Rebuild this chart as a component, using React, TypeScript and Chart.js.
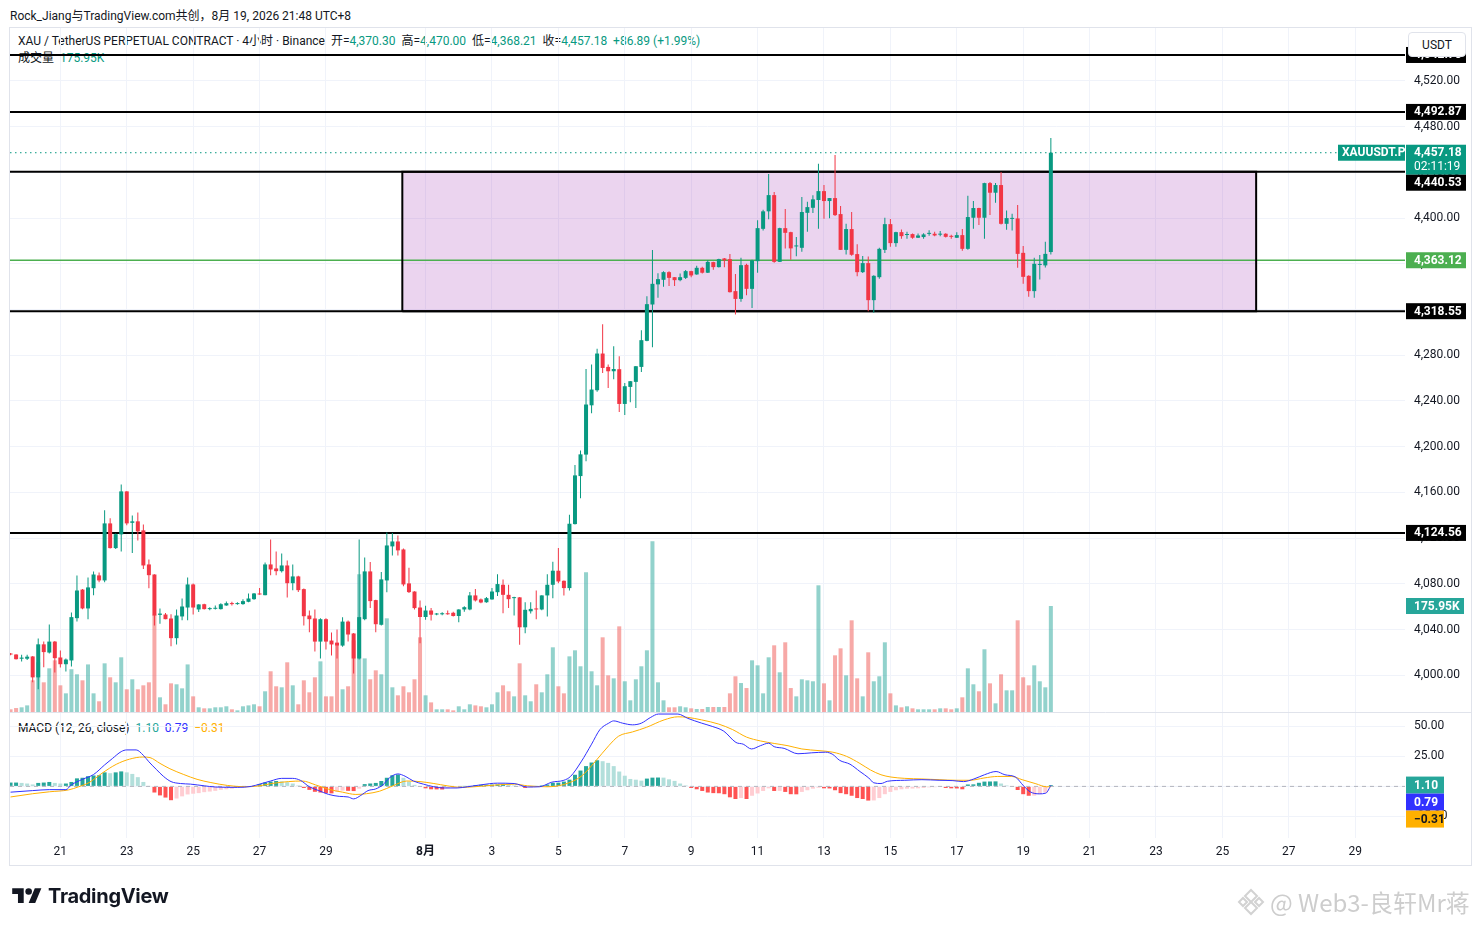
import React, { useEffect, useRef } from 'react';
import { Chart, registerables } from 'chart.js';

Chart.register(...registerables);

const FONT = "Roboto, 'Noto Sans CJK SC', 'Noto Sans', sans-serif";

// 4h slots counted from 21 Jul 00:00; first visible candle is slot -9
const FIRST_SLOT = -9;

const OPEN = [
  4019.0, 4018.2, 4014.5, 4014.5, 4016.5, 3998.2, 4027.1, 4019.9, 4029.5,
  4015.6, 4009.7, 4013.0, 4050.0, 4075.0, 4058.5, 4076.2, 4087.4, 4083.0, 4132.9,
  4111.3, 4123.3, 4160.9, 4133.4, 4134.7, 4126.8, 4097.0, 4088.2, 4052.9, 4053.2,
  4049.7, 4032.5, 4051.5, 4059.3, 4079.5, 4057.6, 4062.2, 4057.9, 4058.2, 4057.9,
  4061.1, 4063.2, 4062.3, 4062.3, 4064.3, 4066.6, 4071.6, 4070.1, 4097.0, 4093.5,
  4091.1, 4096.1, 4080.6, 4086.5, 4075.4, 4052.3, 4049.7, 4029.5, 4049.1, 4030.4,
  4028.6, 4026.0, 4047.0, 4036.6, 4014.7, 4049.1, 4090.9, 4065.8, 4044.2, 4083.0,
  4112.8, 4117.1, 4110.1, 4080.4, 4073.3, 4059.3, 4051.0, 4056.7, 4053.2, 4053.4,
  4054.3, 4054.7, 4051.9, 4057.6, 4057.6, 4069.9, 4066.4, 4063.9, 4066.4, 4072.7,
  4079.2, 4070.4, 4067.5, 4068.2, 4042.0, 4056.0, 4058.5, 4057.6, 4069.9, 4079.2,
  4091.5, 4082.7, 4076.3, 4132.3, 4174.3, 4193.1, 4236.2, 4249.4, 4281.5, 4269.8,
  4266.0, 4267.8, 4237.4, 4252.3, 4256.7, 4269.8, 4292.6, 4324.4, 4342.0, 4346.0,
  4352.7, 4348.3, 4345.7, 4347.7, 4353.6, 4350.7, 4356.5, 4352.2, 4361.5, 4357.1,
  4364.7, 4364.1, 4336.1, 4329.3, 4359.1, 4338.1, 4362.3, 4390.6, 4405.9, 4420.1,
  4361.7, 4391.2, 4387.7, 4375.2, 4374.0, 4404.6, 4409.0, 4415.8, 4423.6, 4414.9,
  4417.5, 4403.5, 4372.2, 4390.4, 4368.5, 4352.7, 4360.6, 4328.2, 4348.3, 4372.2,
  4394.7, 4378.1, 4387.7, 4385.2, 4386.0, 4382.8, 4383.4, 4386.2, 4386.3, 4385.5,
  4386.3, 4384.4, 4382.8, 4385.1, 4373.1, 4400.3, 4408.8, 4400.3, 4430.6, 4422.2,
  4428.9, 4395.0, 4399.3, 4399.7, 4369.6, 4349.5, 4336.1, 4359.0, 4358.6, 4370.3,
];

const HIGH = [
  4019.5, 4018.5, 4018.0, 4018.0, 4016.8, 4032.2, 4029.5, 4044.4, 4030.0,
  4021.7, 4014.7, 4055.0, 4087.4, 4075.4, 4085.6, 4090.9, 4090.0, 4144.3, 4137.3,
  4124.0, 4167.0, 4161.0, 4139.9, 4142.5, 4132.0, 4101.4, 4088.5, 4058.5, 4054.5,
  4053.5, 4057.6, 4067.2, 4085.6, 4080.4, 4062.2, 4062.5, 4059.5, 4061.0, 4063.0,
  4064.5, 4064.4, 4064.0, 4066.5, 4071.6, 4072.0, 4076.3, 4098.8, 4118.9, 4108.4,
  4106.6, 4100.5, 4097.0, 4087.0, 4076.0, 4056.7, 4057.6, 4050.0, 4050.0, 4037.4,
  4040.0, 4050.9, 4048.0, 4037.0, 4118.9, 4103.1, 4099.1, 4066.0, 4090.3, 4125.0,
  4124.4, 4122.4, 4111.0, 4094.0, 4073.5, 4065.5, 4060.9, 4058.8, 4054.5, 4055.2,
  4056.6, 4055.5, 4057.8, 4060.5, 4072.8, 4075.4, 4067.2, 4068.5, 4076.3, 4088.5,
  4083.9, 4079.2, 4068.8, 4068.5, 4064.0, 4064.0, 4074.2, 4070.0, 4088.5, 4099.4,
  4111.3, 4083.0, 4140.5, 4184.0, 4196.6, 4268.0, 4271.9, 4285.6, 4307.2, 4271.9,
  4287.9, 4279.2, 4255.8, 4257.5, 4270.6, 4301.9, 4331.7, 4372.0, 4351.8, 4353.6,
  4353.6, 4348.5, 4351.5, 4354.5, 4354.0, 4358.3, 4357.5, 4363.4, 4361.7, 4364.5,
  4365.0, 4368.5, 4351.0, 4365.3, 4360.0, 4363.5, 4398.2, 4407.3, 4438.5, 4422.8,
  4391.5, 4407.9, 4388.0, 4383.4, 4418.4, 4414.3, 4419.9, 4447.6, 4428.9, 4417.5,
  4455.2, 4410.5, 4395.0, 4405.3, 4377.2, 4366.8, 4366.4, 4350.0, 4374.0, 4400.3,
  4399.1, 4388.0, 4390.0, 4388.0, 4386.5, 4386.5, 4386.8, 4389.4, 4388.0, 4388.8,
  4386.7, 4385.5, 4387.7, 4390.4, 4419.5, 4414.9, 4409.0, 4431.0, 4431.5, 4430.6,
  4440.3, 4406.7, 4403.8, 4411.4, 4375.5, 4350.0, 4365.2, 4367.6, 4379.2, 4470.0,
];

const LOW = [
  4017.5, 4013.8, 4012.0, 4013.5, 3994.0, 3987.8, 4007.0, 4019.0, 4002.4,
  4006.8, 4003.3, 4007.7, 4047.0, 4057.9, 4049.1, 4070.1, 4081.5, 4081.5, 4111.0,
  4110.5, 4108.4, 4131.2, 4106.9, 4118.0, 4093.0, 4076.2, 4043.6, 4045.2, 4049.0,
  4025.5, 4026.9, 4048.2, 4048.2, 4053.2, 4055.3, 4057.5, 4057.0, 4057.6, 4057.5,
  4060.8, 4061.0, 4061.8, 4061.8, 4064.0, 4066.0, 4070.5, 4070.0, 4087.6, 4087.6,
  4090.0, 4068.0, 4074.5, 4072.8, 4043.6, 4037.7, 4020.8, 4014.7, 4022.5, 4017.4,
  4014.7, 4025.0, 4029.5, 4001.5, 4013.8, 4048.2, 4058.8, 4037.7, 4043.6, 4072.7,
  4104.9, 4104.9, 4078.0, 4072.0, 4057.6, 4028.0, 4048.6, 4047.9, 4052.6, 4052.6,
  4053.0, 4051.5, 4046.5, 4055.7, 4057.0, 4064.6, 4063.0, 4063.5, 4066.0, 4069.3,
  4054.4, 4058.8, 4052.3, 4026.7, 4036.9, 4054.0, 4049.1, 4057.0, 4051.5, 4067.5,
  4080.6, 4069.9, 4074.2, 4132.0, 4155.0, 4187.2, 4229.2, 4248.0, 4264.5, 4251.4,
  4259.0, 4230.4, 4227.8, 4238.9, 4233.9, 4265.4, 4292.3, 4287.0, 4330.2, 4339.9,
  4340.5, 4340.5, 4344.8, 4346.8, 4348.3, 4350.5, 4351.5, 4352.0, 4354.8, 4356.7,
  4357.0, 4335.0, 4315.7, 4326.7, 4332.6, 4321.4, 4352.1, 4389.2, 4398.9, 4361.0,
  4361.5, 4373.5, 4363.5, 4366.7, 4370.5, 4388.0, 4404.4, 4390.6, 4399.4, 4399.9,
  4401.8, 4372.0, 4368.2, 4367.0, 4349.2, 4352.0, 4318.6, 4317.1, 4346.9, 4369.4,
  4374.9, 4374.9, 4382.0, 4382.0, 4382.0, 4382.5, 4382.0, 4384.5, 4384.2, 4384.2,
  4383.0, 4382.0, 4382.5, 4371.4, 4372.2, 4390.6, 4393.9, 4381.9, 4402.6, 4413.4,
  4394.5, 4389.8, 4389.2, 4356.5, 4342.5, 4331.1, 4330.2, 4346.3, 4356.8, 4368.21,
];

const CLOSE = [
  4018.2, 4014.1, 4015.5, 4016.3, 3998.2, 4027.1, 4020.3, 4029.5, 4015.0,
  4009.7, 4013.8, 4050.9, 4074.2, 4058.5, 4076.9, 4088.2, 4083.0, 4132.9, 4111.3,
  4123.5, 4160.9, 4132.9, 4134.7, 4125.9, 4096.1, 4087.6, 4052.3, 4054.0, 4049.1,
  4032.5, 4052.3, 4060.2, 4079.5, 4059.3, 4062.0, 4057.9, 4058.8, 4059.0, 4062.2,
  4063.1, 4062.3, 4063.2, 4064.9, 4067.2, 4071.6, 4070.7, 4097.0, 4092.6, 4091.1,
  4096.1, 4080.6, 4086.5, 4074.5, 4051.7, 4049.1, 4029.5, 4049.1, 4029.5, 4027.0,
  4026.0, 4047.0, 4035.7, 4014.7, 4050.9, 4090.9, 4064.9, 4044.7, 4083.9, 4113.6,
  4117.1, 4109.3, 4079.5, 4072.8, 4058.8, 4051.0, 4056.7, 4053.0, 4053.8, 4054.3,
  4053.4, 4051.9, 4057.6, 4059.6, 4069.9, 4065.5, 4063.7, 4067.5, 4073.3, 4079.8,
  4070.4, 4066.6, 4068.2, 4042.0, 4057.3, 4058.1, 4057.6, 4069.9, 4079.2, 4091.5,
  4082.1, 4076.3, 4132.6, 4174.9, 4193.3, 4236.9, 4250.0, 4281.5, 4268.9, 4266.0,
  4268.0, 4237.4, 4252.9, 4257.3, 4270.4, 4293.2, 4324.7, 4342.5, 4346.6, 4352.7,
  4347.7, 4345.7, 4348.3, 4353.6, 4349.8, 4356.5, 4352.2, 4361.7, 4357.1, 4364.1,
  4363.0, 4335.2, 4329.3, 4358.8, 4338.1, 4363.0, 4391.2, 4405.9, 4420.1, 4361.7,
  4391.2, 4387.1, 4373.5, 4376.0, 4405.3, 4409.6, 4416.4, 4423.6, 4414.9, 4417.5,
  4402.6, 4372.2, 4390.4, 4367.9, 4352.7, 4360.6, 4328.2, 4349.5, 4373.1, 4394.7,
  4378.1, 4387.7, 4384.2, 4386.0, 4382.8, 4384.8, 4385.7, 4386.9, 4384.8, 4386.3,
  4383.6, 4383.6, 4385.1, 4373.1, 4400.9, 4408.8, 4400.3, 4430.6, 4422.2, 4428.9,
  4395.0, 4400.0, 4400.1, 4368.7, 4348.6, 4336.1, 4360.0, 4359.6, 4368.7, 4457.18,
];

// volume in thousands
const VOLUME_K = [
  4.5, 6.6, 7.8, 11, 52.6, 82.5, 49.3, 72.5, 85.8,
  44.3, 31, 71, 62.6, 52.6, 79, 31, 17.8, 80.8, 57.6,
  49.3, 90.8, 37.7, 54.3, 37.7, 44.3, 49.3, 161.6, 24.4, 12.8,
  47.6, 46, 39.3, 79, 26, 7.8, 6.1, 6.1, 7.8, 7.8,
  9.5, 4.5, 2.8, 9.5, 11, 12.8, 9.5, 34.4, 67.6, 42.7,
  41, 82.5, 44.3, 12.8, 52.6, 32.7, 57.6, 84.1, 26, 26,
  110.7, 37.7, 42.7, 119, 228.5, 89, 54.3, 69.2, 62.6, 155.5,
  41, 27.7, 42.7, 32.7, 54.3, 124, 27.7, 16, 4.5, 4.5,
  4.5, 2.8, 9.5, 4.5, 12.8, 11, 9.5, 7.8, 12.8, 32.7,
  44.3, 34.4, 26, 80.8, 27.7, 17.8, 46, 32.7, 62.6, 107.4,
  42.7, 31, 92.4, 102.4, 75.9, 231.9, 67.6, 44.3, 124, 60.9,
  55.9, 142.2, 51, 19.4, 54.3, 75.9, 102.4, 283.3, 49.3, 19.4,
  7.8, 7.8, 9.5, 7.8, 6.1, 5, 5, 8.3, 8.3, 8.3,
  8.3, 31, 59.3, 48.1, 39.8, 85.8, 77.5, 31, 90.8, 110.7,
  65.9, 115.7, 39.8, 26, 54.3, 52.6, 51, 210.3, 47.6, 19.4,
  94.1, 105.7, 60.9, 152.2, 55.9, 26, 99.1, 51, 59.3, 115.7,
  31, 11, 7.8, 9.5, 6.1, 4.5, 4.5, 4.5, 4.5, 6.1,
  6.1, 4.5, 6.1, 24.4, 72.5, 46, 34.4, 104.1, 47.6, 14.4,
  62.6, 36, 36, 152.2, 57.6, 44.3, 77.5, 51, 41, 175.95,
];

// MACD histogram, one value per candle
const HIST = [
  3.2, 3.2, 2.9, 2.4, 1.6, 2.9, 3.2, 3.7, 2.9,
  2.4, 2.4, 3.7, 6.7, 7.2, 8.5, 9.1, 9.3, 11.7, 11.0,
  11.7, 12.5, 11.7, 10.4, 7.7, 3.7, 0.3, -5.1, -7.5, -9.3,
  -11.5, -10.1, -8.3, -6.7, -6.1, -5.6, -4.8, -4.3, -3.7, -2.9,
  -2.4, -1.9, -1.3, -0.8, -0.3, 0.5, 1.9, 3.2, 4.0, 4.5,
  4.3, 3.5, 2.4, 0.8, -1.3, -2.9, -4.5, -5.1, -5.6, -5.8,
  -4.5, -3.5, -3.7, -3.9, -1.9, 1.9, 2.4, 2.9, 4.5, 7.2,
  9.3, 9.9, 7.2, 4.0, 1.3, -0.3, -1.6, -2.4, -2.5, -2.6,
  -1.6, -1.1, -0.5, 0.1, 0.5, 1.1, 1.3, 1.4, 1.5, 1.6,
  1.7, 1.6, 0.8, -0.5, -1.3, -0.8, 0.3, 0.8, 1.6, 3.0,
  3.1, 4.0, 5.6, 9.7, 13.2, 16.9, 19.9, 21.8, 21.0, 19.6,
  16.9, 12.4, 8.9, 6.2, 5.6, 4.8, 6.5, 7.3, 7.4, 7.3,
  5.9, 4.6, 2.4, 0.8, -1.3, -2.4, -3.8, -5.1, -5.6, -5.7,
  -6.5, -9.1, -10.5, -9.7, -10.5, -7.8, -5.9, -3.8, -1.6, -3.8,
  -3.7, -4.6, -6.5, -6.6, -4.6, -3.2, -1.9, -1.1, -1.6, -1.7,
  -3.2, -5.6, -6.5, -7.8, -9.7, -10.5, -11.8, -11.7, -9.7, -6.5,
  -4.6, -3.2, -2.4, -1.9, -1.8, -1.6, -1.3, -0.8, -0.7, -0.5,
  -1.3, -1.6, -1.7, -2.4, 1.6, 1.7, 3.0, 4.0, 4.1, 4.2,
  2.4, 0.8, -0.5, -3.0, -6.5, -7.8, -7.7, -6.5, -5.1, 1.1,
];

// MACD line readings (slot, value)
const MACD_X = [-9, -5, -2, 1, 2, 4, 6, 8, 9.4, 11, 12, 13.7, 15, 16, 17.4, 18.6, 20, 21.7, 23.5, 26, 28, 32, 34.5, 36, 38, 40, 42, 43.4, 45, 46.7, 48.5, 50.4, 52, 53, 54.3, 55.6, 57, 58.3, 59.5, 61, 62.3, 63.8, 65.6, 67.5, 69.3, 71.7, 73.6, 76, 79, 82, 84.4, 86.6, 88.8, 91, 92.2, 94.1, 96, 97.5, 99.1, 100, 101.6, 103.4, 105, 106.6, 108.1, 111.6, 113.4, 115.9, 117.8, 119.9, 122.1, 123.4, 124.9, 126.5, 128, 129, 130.8, 133.3, 135.8, 138.3, 139.6, 140.8, 142.7, 144.5, 146.1, 147, 148.3, 149.5, 152.6, 155.7, 158.8, 161.3, 163.2, 165.1, 167, 169.1, 170.7, 172.6, 174.1, 175.3, 176.9, 178.1, 179];
const MACD_Y = [-4.8, -3.5, -2.7, -2.7, 1.3, 5.9, 9.9, 17.9, 23.2, 29, 30.4, 30.4, 25.9, 20.5, 13.9, 8.5, 4, 2.4, 1.9, 0.5, -0.5, -0.8, 0, 1.9, 4.5, 6.7, 6.7, 5, -0.3, -3.5, -6.7, -8.3, -8.8, -10.4, -7.5, -3.5, -2.1, 1.3, 7.2, 10.4, 8.5, 4.5, 1.9, -0.3, -1.3, -1.3, -0.3, 1.3, 2.7, 2.4, -0.5, -0.3, 3.5, 5.1, 8.3, 20.4, 35.2, 47.3, 52.7, 54.6, 52.7, 51.3, 52.7, 57.3, 60.3, 60.3, 56.7, 52.7, 50, 46, 36.6, 35.2, 31.2, 33.9, 36, 33.1, 31.7, 27.2, 28, 28.5, 26.6, 21.8, 18.5, 12.4, 7, 3, 2.4, 4.3, 5.1, 5.6, 5.1, 4.8, 4, 6.2, 9.7, 12.4, 9.7, 7.8, 0.3, -4.6, -6.2, -5.6, 0.79];

// Signal line readings (slot, value)
const SIGNAL_X = [-9, -5, -2, 1.5, 3.3, 5.2, 7.6, 10.1, 12.5, 14.9, 16.2, 18, 19.8, 22.3, 24.7, 27.2, 30.2, 33.3, 35.7, 38.2, 41.2, 43.7, 46.1, 48.5, 51, 53.4, 55.3, 57.7, 60.1, 62.6, 65, 67.5, 69.9, 72.4, 74.8, 78.5, 82.1, 84.4, 87.9, 91, 94.1, 96.6, 99.1, 100.9, 103.4, 105.9, 109.1, 111.6, 113.4, 115.9, 119, 121.5, 124, 126.5, 129, 131.5, 134, 137.1, 139.6, 142.1, 144.5, 146.4, 148.3, 150.1, 152.6, 155.7, 158.8, 161.9, 164.4, 166.9, 169.4, 171.9, 173.8, 176.3, 178.2, 179];
const SIGNAL_Y = [-8.8, -6.1, -4.5, -2.9, -0.3, 3.2, 11.2, 18.4, 22.7, 24.5, 24, 19.2, 14.7, 9.9, 5.9, 3.2, 0.8, -0.3, 0.3, 2.4, 4, 4.5, 1.3, -2.4, -4.8, -6.7, -6.1, -4, 0.5, 4.5, 4, 2.4, 0.5, -0.8, -0.3, 1.1, 1.9, 0.5, -0.3, 1.6, 8.3, 20.4, 33.9, 41.9, 45.4, 49.2, 55.4, 58, 57.5, 55.4, 51.9, 47.3, 41.1, 37.9, 35.8, 33.9, 31.2, 29.8, 28.5, 25, 19.1, 13.7, 9.7, 7.8, 6.7, 6.2, 5.6, 5.1, 5.1, 7, 8.3, 8.3, 5.6, 2.2, -0.3, -0.31];

const X_TICK_SLOTS = [0, 12, 24, 36, 48, 66, 78, 90, 102, 114, 126, 138, 150, 162, 174, 186, 198, 210, 222, 234];
const X_TICK_LABELS = ['21', '23', '25', '27', '29', '8月', '3', '5', '7', '9', '11', '13', '15', '17', '19', '21', '23', '25', '27', '29'];
const PRICE_TICKS = [4000, 4040, 4080, 4120, 4160, 4200, 4240, 4280, 4320, 4360, 4400, 4440, 4480, 4520];
const MACD_TICKS = [-25, 0, 25, 50];

const BLACK_LEVELS = [4542.7, 4492.87, 4440.53, 4318.55, 4124.56];
const GREEN_LEVEL = 4363.12;
const LAST_PRICE = 4457.18;
const BOX_SLOTS = [61.8, 216.1];
const BOX_PRICES = [4318.55, 4440.53];

const X_MIN = -9.1;
const X_MAX = 243.0;
const PRICE_MIN = 3967.9;
const PRICE_MAX = 4566.3;
const VOL_MIN = -209.1;
const VOL_MAX = 1135.3;
const MACD_MIN = -43.0;
const MACD_MAX = 62.0;

const UP = '#089981';
const DOWN = '#f23645';

const fmt2 = (v: number) =>
  v.toLocaleString('en-US', { minimumFractionDigits: 2, maximumFractionDigits: 2 });

const overlayPlugin = {
  id: 'overlay',
  afterDraw(chart: any) {
    const { ctx, chartArea: a, scales } = chart;
    const py = scales.y;
    const pm = scales.ym;
    const pv = scales.yv;
    ctx.save();
    const sep = Math.round(py.bottom) + 0.5;
    ctx.strokeStyle = '#e0e3eb';
    ctx.lineWidth = 1;
    ctx.beginPath();
    ctx.moveTo(a.left, sep);
    ctx.lineTo(py.right, sep);
    ctx.stroke();

    const bx = a.right + 1;
    const stack = (items: any[], scale: any, w: number, h0: number) => {
      let last = -Infinity;
      items
        .slice()
        .sort((p, q) => q.v - p.v)
        .forEach((it) => {
          const h = h0 + (it.lines.length - 1) * 14;
          const top = Math.max(scale.getPixelForValue(it.v) - h0 / 2, last);
          ctx.fillStyle = it.bg;
          ctx.fillRect(bx, top, w, h);
          ctx.fillStyle = it.fg;
          ctx.textBaseline = 'middle';
          ctx.textAlign = 'left';
          it.lines.forEach((t: string, j: number) => {
            ctx.font = (j === 0 ? 'bold ' : '') + '12px ' + FONT;
            ctx.fillText(t, bx + 8, top + h0 / 2 + 0.5 + j * 14);
          });
          last = top + h;
        });
    };

    const priceBadges = [
      ...BLACK_LEVELS.map((v) => ({ v, bg: '#000000', fg: '#ffffff', lines: [fmt2(v)] })),
      { v: GREEN_LEVEL, bg: '#4caf50', fg: '#ffffff', lines: [fmt2(GREEN_LEVEL)] },
      { v: LAST_PRICE, bg: UP, fg: '#ffffff', lines: [fmt2(LAST_PRICE), '02:11:19'] },
    ];
    stack(priceBadges, py, 60, 16);

    const lastVol = VOLUME_K[VOLUME_K.length - 1];
    stack([{ v: lastVol, bg: '#26a69a', fg: '#ffffff', lines: [lastVol.toFixed(2) + 'K'] }], pv, 58, 16);

    const lastHist = HIST[HIST.length - 1];
    const lastMacd = MACD_Y[MACD_Y.length - 1];
    const lastSig = SIGNAL_Y[SIGNAL_Y.length - 1];
    const mfmt = (v: number) => (v < 0 ? '\u2212' : '') + Math.abs(v).toFixed(2);
    stack(
      [
        { v: lastHist, bg: '#26a69a', fg: '#ffffff', lines: [mfmt(lastHist)] },
        { v: lastMacd, bg: '#3131ff', fg: '#ffffff', lines: [mfmt(lastMacd)] },
        { v: lastSig, bg: '#ffb000', fg: '#131722', lines: [mfmt(lastSig)] },
      ],
      pm,
      38,
      17
    );

    // symbol tag at the last price
    const ty = py.getPixelForValue(LAST_PRICE) - 8;
    ctx.fillStyle = UP;
    ctx.fillRect(a.right - 67, ty, 67, 16);
    ctx.fillStyle = '#ffffff';
    ctx.font = 'bold 12px ' + FONT;
    ctx.textBaseline = 'middle';
    ctx.textAlign = 'left';
    ctx.fillText('XAUUSDT.P', a.right - 63, ty + 8.5);
    ctx.restore();
  },
};

function hline(y: number, color: string, width: number, order: number, dash: number[] = []) {
  return {
    type: 'line',
    yAxisID: 'y',
    data: [
      { x: X_MIN, y },
      { x: X_MAX, y },
    ],
    borderColor: color,
    borderWidth: width,
    borderDash: dash,
    pointRadius: 0,
    fill: false,
    order,
  };
}

export default function App() {
  const ref = useRef<HTMLCanvasElement>(null);

  useEffect(() => {
    const slots = OPEN.map((_, k) => FIRST_SLOT + k);
    const up = OPEN.map((o, k) => CLOSE[k] >= o);
    const candleColors = up.map((u) => (u ? UP : DOWN));
    const volColors = up.map((u) => (u ? 'rgba(38,166,154,0.5)' : 'rgba(239,83,80,0.5)'));
    const histColors = HIST.map((h, k) => {
      const prev = k > 0 ? HIST[k - 1] : h;
      if (h >= 0) return h >= prev ? '#26a69a' : '#b2dfdb';
      return h < prev ? '#ff5252' : '#ffcdd2';
    });

    const datasets: any[] = [
      {
        type: 'bar',
        yAxisID: 'yv',
        data: slots.map((s, k) => ({ x: s, y: VOLUME_K[k] })),
        backgroundColor: volColors,
        barThickness: 4,
        grouped: false,
        inflateAmount: 0,
        order: 20,
      },
      {
        type: 'line',
        yAxisID: 'y',
        data: [
          { x: BOX_SLOTS[0], y: BOX_PRICES[1] },
          { x: BOX_SLOTS[1], y: BOX_PRICES[1] },
        ],
        borderWidth: 0,
        pointRadius: 0,
        backgroundColor: 'rgba(156,39,176,0.2)',
        fill: { value: BOX_PRICES[0] },
        order: 15,
      },
      {
        type: 'line',
        yAxisID: 'y',
        data: [
          { x: BOX_SLOTS[0], y: BOX_PRICES[0] },
          { x: BOX_SLOTS[1], y: BOX_PRICES[0] },
          { x: BOX_SLOTS[1], y: BOX_PRICES[1] },
          { x: BOX_SLOTS[0], y: BOX_PRICES[1] },
          { x: BOX_SLOTS[0], y: BOX_PRICES[0] },
        ],
        borderColor: '#000000',
        borderWidth: 2,
        pointRadius: 0,
        fill: false,
        order: 8,
      },
      ...BLACK_LEVELS.map((v) => hline(v, '#000000', 2, 8)),
      hline(GREEN_LEVEL, '#4caf50', 1.5, 8),
      hline(LAST_PRICE, UP, 1, 8, [1.5, 3.5]),
      {
        type: 'bar',
        yAxisID: 'ym',
        data: slots.map((s, k) => ({ x: s, y: HIST[k] })),
        backgroundColor: histColors,
        barThickness: 4,
        grouped: false,
        inflateAmount: 0,
        order: 7,
      },
      {
        type: 'line',
        yAxisID: 'ym',
        data: [
          { x: X_MIN, y: 0 },
          { x: X_MAX, y: 0 },
        ],
        borderColor: '#b2b5be',
        borderWidth: 1,
        borderDash: [4, 4],
        pointRadius: 0,
        fill: false,
        order: 6,
      },
      {
        type: 'line',
        yAxisID: 'ym',
        data: MACD_X.map((x, k) => ({ x, y: MACD_Y[k] })),
        borderColor: '#3131ff',
        borderWidth: 1,
        pointRadius: 0,
        cubicInterpolationMode: 'monotone',
        fill: false,
        order: 4,
      },
      {
        type: 'line',
        yAxisID: 'ym',
        data: SIGNAL_X.map((x, k) => ({ x, y: SIGNAL_Y[k] })),
        borderColor: '#ffb000',
        borderWidth: 1,
        pointRadius: 0,
        cubicInterpolationMode: 'monotone',
        fill: false,
        order: 5,
      },
      {
        type: 'bar',
        yAxisID: 'y',
        data: slots.map((s, k) => ({ x: s, y: [LOW[k], HIGH[k]] })),
        backgroundColor: candleColors,
        barThickness: 1,
        grouped: false,
        inflateAmount: 0,
        order: 2,
      },
      {
        type: 'bar',
        yAxisID: 'y',
        data: slots.map((s, k) => ({
          x: s,
          y: [Math.min(OPEN[k], CLOSE[k]), Math.max(OPEN[k], CLOSE[k])],
        })),
        backgroundColor: candleColors,
        barThickness: 4,
        minBarLength: 1,
        grouped: false,
        inflateAmount: 0,
        order: 1,
      },
    ];

    const tickFont = { family: FONT, size: 12 };

    const chart = new Chart(ref.current as HTMLCanvasElement, {
      type: 'bar',
      data: { datasets },
      plugins: [overlayPlugin],
      options: {
        responsive: false,
        animation: false,
        events: [],
        layout: { padding: { left: 10, top: 28, right: 10, bottom: 60 } },
        plugins: { legend: { display: false }, tooltip: { enabled: false } },
        scales: {
          x: {
            type: 'linear',
            min: X_MIN,
            max: X_MAX,
            offset: false,
            position: 'bottom',
            afterBuildTicks: (s: any) => {
              s.ticks = X_TICK_SLOTS.map((v) => ({ value: v }));
            },
            afterFit: (s: any) => {
              s.height = 27;
            },
            ticks: {
              autoSkip: false,
              maxRotation: 0,
              padding: 7,
              color: '#131722',
              font: (c: any) => ({
                family: FONT,
                size: 12,
                weight: c.tick && c.tick.label === '8月' ? 'bold' : 'normal',
              }),
              callback: (v: any) => X_TICK_LABELS[X_TICK_SLOTS.indexOf(Number(v))] ?? '',
            },
            grid: { color: '#f0f3fa', drawTicks: false, offset: false },
            border: { display: false },
          },
          y: {
            type: 'linear',
            position: 'right',
            stack: 'panes',
            stackWeight: 684,
            min: PRICE_MIN,
            max: PRICE_MAX,
            afterBuildTicks: (s: any) => {
              s.ticks = PRICE_TICKS.map((v) => ({ value: v }));
            },
            afterFit: (s: any) => {
              s.width = 66;
            },
            ticks: {
              autoSkip: false,
              padding: 9,
              color: '#131722',
              font: tickFont,
              callback: (v: any) => fmt2(Number(v)),
            },
            grid: { color: '#f0f3fa', drawTicks: false },
            border: { display: false },
          },
          ym: {
            type: 'linear',
            position: 'right',
            stack: 'panes',
            stackWeight: 126,
            min: MACD_MIN,
            max: MACD_MAX,
            afterBuildTicks: (s: any) => {
              s.ticks = MACD_TICKS.map((v) => ({ value: v }));
            },
            afterFit: (s: any) => {
              s.width = 66;
            },
            ticks: {
              autoSkip: false,
              padding: 9,
              color: '#131722',
              font: tickFont,
              callback: (v: any) => fmt2(Number(v)),
            },
            grid: { color: '#f0f3fa', drawTicks: false },
            border: { display: false },
          },
          yv: {
            type: 'linear',
            display: false,
            position: 'left',
            min: VOL_MIN,
            max: VOL_MAX,
          },
        },
      } as any,
    } as any);

    return () => chart.destroy();
  }, []);

  const teal = '#089981';
  const base: React.CSSProperties = { position: 'absolute', whiteSpace: 'nowrap', color: '#131722', fontFamily: FONT };

  return (
    <div
      style={{
        position: 'fixed',
        left: 0,
        top: 0,
        width: 1481,
        height: 925,
        background: '#ffffff',
        overflow: 'hidden',
        fontFamily: FONT,
      }}
    >
      <div style={{ ...base, left: 10, top: 6, fontSize: 12 }}>
        Rock_Jiang与TradingView.com共创，8月 19, 2026 21:48 UTC+8
      </div>
      <div
        style={{
          position: 'absolute',
          left: 9,
          top: 27,
          width: 1463,
          height: 839,
          border: '1px solid #e0e3eb',
          boxSizing: 'border-box',
        }}
      />
      <div style={{ ...base, left: 18, top: 33, fontSize: 12, lineHeight: '16px' }}>
        XAU / TetherUS PERPETUAL CONTRACT · 4小时 · Binance{'\u00a0\u00a0'}开=
        <span style={{ color: teal }}>4,370.30</span>
        {'\u00a0\u00a0'}高=<span style={{ color: teal }}>4,470.00</span>
        {'\u00a0\u00a0'}低=<span style={{ color: teal }}>4,368.21</span>
        {'\u00a0\u00a0'}收=<span style={{ color: teal }}>4,457.18</span>
        {'\u00a0\u00a0'}
        <span style={{ color: teal }}>+86.89 (+1.99%)</span>
      </div>
      <div style={{ ...base, left: 18, top: 50, fontSize: 12, lineHeight: '16px' }}>
        成交量{'\u00a0\u00a0'}<span style={{ color: teal }}>175.95K</span>
      </div>
      <div style={{ ...base, left: 18, top: 720, fontSize: 12, lineHeight: '16px' }}>
        MACD (12, 26, close){'\u00a0\u00a0'}
        <span style={{ color: '#26a69a' }}>1.10</span>
        {'\u00a0\u00a0'}
        <span style={{ color: '#3131ff' }}>0.79</span>
        {'\u00a0\u00a0'}
        <span style={{ color: '#ffb000' }}>{'\u2212'}0.31</span>
      </div>
      <canvas
        ref={ref}
        width={1481}
        height={925}
        style={{ position: 'absolute', left: 0, top: 0, width: 1481, height: 925 }}
      />
      <div
        style={{
          position: 'absolute',
          left: 1408,
          top: 32,
          width: 58,
          height: 25,
          border: '1px solid #e0e3eb',
          borderRadius: 4,
          boxSizing: 'border-box',
          background: '#ffffff',
          fontSize: 12,
          color: '#131722',
          display: 'flex',
          alignItems: 'center',
          justifyContent: 'center',
          fontFamily: FONT,
        }}
      >
        USDT
      </div>
      <div style={{ position: 'absolute', left: 12, top: 884, display: 'flex', alignItems: 'center' }}>
        <svg width="30" height="23" viewBox="0 0 36 28">
          <path d="M14 22H7V11H0V4h14v18zM28 22h-8l7.5-18h8L28 22z" fill="#131722" />
          <circle cx="20" cy="8" r="4" fill="#131722" />
        </svg>
        <span
          style={{
            marginLeft: 6,
            fontFamily: "Inter, 'Open Sans', sans-serif",
            fontWeight: 700,
            fontSize: 20,
            color: '#131722',
            letterSpacing: -0.3,
          }}
        >
          TradingView
        </span>
      </div>
      <div style={{ position: 'absolute', left: 1236, top: 884, display: 'flex', alignItems: 'center' }}>
        <svg width="30" height="30" viewBox="0 0 30 30">
          <g fill="none" stroke="#d2d2d2" strokeWidth="2">
            <path d="M15 3 L21 9 L15 15 L9 9 Z" />
            <path d="M15 15 L21 21 L15 27 L9 21 Z" />
            <path d="M3 15 L7 11 L11 15 L7 19 Z" />
            <path d="M19 15 L23 11 L27 15 L23 19 Z" />
          </g>
        </svg>
        <span
          style={{
            marginLeft: 4,
            fontFamily: "'Noto Sans CJK SC', 'Noto Sans', sans-serif",
            fontSize: 24,
            color: '#cdcdcd',
            whiteSpace: 'nowrap',
          }}
        >
          @ Web3-良轩Mr蒋
        </span>
      </div>
    </div>
  );
}
